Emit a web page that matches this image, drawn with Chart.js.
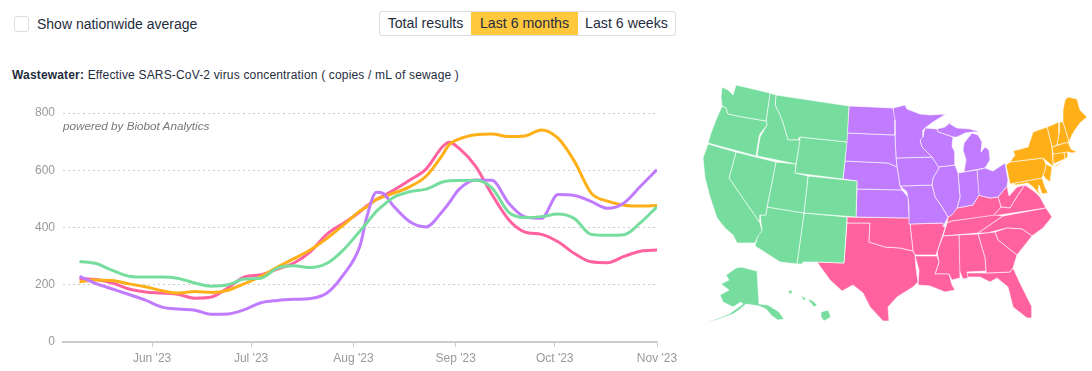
<!DOCTYPE html>
<html>
<head>
<meta charset="utf-8">
<script src="https://cdn.jsdelivr.net/npm/chart.js@4"></script>
<style>
  html, body { margin: 0; padding: 0; background: #fff; width: 1092px; height: 371px; overflow: hidden; font-family: "Liberation Sans", sans-serif; color: #1f2d3d; }
  .abs { position: absolute; white-space: nowrap; }
  #check { left: 14px; top: 16px; width: 13px; height: 14px; border: 1px solid #ddd; border-radius: 3px; }
  #checkLabel { left: 37px; top: 16px; font-size: 14px; }
  #buttons { left: 379px; top: 11px; height: 23px; border: 1px solid #ddd; border-radius: 3px; display: flex; font-size: 14.2px; line-height: 23px; }
  #buttons div { text-align: center; }
  #buttons .on { background: #ffc83d; }
  #title { left: 12px; top: 68px; font-size: 12px; letter-spacing: 0.17px; }
  #powered { left: 63px; top: 119px; font-size: 11.7px; font-style: italic; color: #777; }
  #lineChart { position: absolute; left: 0; top: 100px; }
  #mapChart { position: absolute; left: 690px; top: 80px; }
</style>
</head>
<body>
<div id="check" class="abs"></div>
<div id="checkLabel" class="abs">Show nationwide average</div>
<div id="buttons" class="abs">
  <div style="width:91px">Total results</div>
  <div class="on" style="width:107px">Last 6 months</div>
  <div style="width:97px">Last 6 weeks</div>
</div>
<div id="title" class="abs"><b>Wastewater:</b> Effective SARS-CoV-2 virus concentration ( copies / mL of sewage )</div>
<canvas id="lineChart" width="690" height="271"></canvas>
<canvas id="mapChart" width="402" height="260"></canvas>
<div id="powered" class="abs">powered by Biobot Analytics</div>

<script>
// Dias contados a partir de 1 jun 2023
const days = [-22,-17,-12,-7,-2,3,8,13,18,23,28,33,38,43,48,53,58,63,65,68,70,73,78,83,88,90,93,98,103,108,113,118,123,128,133,138,143,148,153];
const west = [281,274,250,230,227,227,222,206,195,200,220,223,258,266,260,275,322,388,415,457,477,504,525,534,559,563,564,565,538,454,435,438,447,431,376,373,375,417,472];
const midwest = [229,204,185,166,146,122,115,111,97,98,113,137,145,149,152,171,235,336,434,523,519,477,421,402,457,486,533,566,565,486,437,432,515,512,491,467,486,544,602];
const northeast = [210,217,215,203,193,179,171,176,173,181,204,229,262,291,322,362,409,458,472,498,507,519,542,579,654,689,709,724,727,718,720,741,712,631,521,492,478,475,477];
const south = [222,218,206,185,175,171,166,153,157,189,227,235,255,276,316,377,415,455,475,498,510,529,565,604,682,698,677,614,515,428,384,376,350,309,280,277,299,317,321];

const monthTicks = [0,30,61,92,122,153];
const monthLabels = ["Jun '23","Jul '23","Aug '23","Sep '23","Oct '23","Nov '23"];
const valueTicks = [0,200,400,600,800];

const colorWest = '#77dd9f';
const colorMidwest = '#c17bff';
const colorNortheast = '#ffb018';
const colorSouth = '#ff629f';

// Contornos do mapa (unidades do mapa)
const WA = [[722,87],[728,90],[733,95],[736,85],[770,93],[766,121],[743,117],[728,114],[726,108],[722,106],[721,97]];
const OR = [[722,106],[726,108],[728,114],[743,117],[766,121],[767,125],[760,134],[759,137],[756,156],[708,143],[711,133],[716,120]];
const CA = [[708,144],[736,152],[729,178],[760,223],[762,231],[758,236],[755,243],[737,243],[733,235],[725,228],[717,218],[712,203],[710,197],[705,178],[703,158]];
const NV = [[736,152],[776,162],[767,207],[766,215],[760,215],[760,223],[729,178]];
const ID = [[770,93],[776,95],[775,105],[780,115],[783,123],[785,130],[788,140],[800,140],[796,164],[757,156],[760,137],[767,125],[766,121]];
const MT = [[776,95],[849,106],[847,142],[800,137],[799,140],[788,140],[785,130],[783,123],[780,115],[775,105]];
const WY = [[800,137],[847,142],[843,179],[795,173]];
const UT = [[776,162],[796,164],[795,173],[808,176],[804,213],[767,207]];
const CO = [[808,176],[857,181],[856,217],[804,213]];
const AZ = [[767,207],[804,213],[797,264],[780,262],[755,246],[758,235],[762,230],[760,215],[766,215]];
const NM = [[804,213],[847,217],[844,263],[817,262],[803,262],[803,264],[797,264]];
const AK = [[736,268],[741,267],[757,271],[759,304],[768,305],[779,312],[784,319],[778,320],[772,316],[766,309],[759,306],[746,304],[739,310],[733,314],[716,320],[703,324],[716,319],[729,314],[743,304],[741,302],[733,307],[723,302],[720,295],[729,290],[721,284],[729,280],[726,275]];
const HI1 = [[821,312],[828,310],[831,317],[824,321],[821,317]];
const HI2 = [[809,299],[813,301],[817,305],[814,307],[810,302]];
const HI3 = [[801,296],[806,298],[804,301]];
const HI4 = [[788,290],[793,291],[790,295]];

const ND = [[849,106],[893,108],[895,120],[895,135],[847,133]];
const SD = [[847,133],[895,135],[896,158],[897,167],[888,163],[845,161]];
const NE = [[845,161],[888,163],[897,167],[900,186],[902,190],[857,189],[857,181],[843,179]];
const KS = [[857,189],[902,190],[908,197],[909,218],[856,217]];
const MN = [[893,108],[905,105],[907,109],[920,114],[930,115],[946,114],[933,122],[925,128],[923,130],[923,137],[920,140],[922,147],[932,157],[896,158],[895,135]];
const IA = [[896,158],[932,157],[939,168],[933,178],[932,185],[900,186],[897,167]];
const MO = [[900,186],[932,185],[935,197],[942,207],[948,217],[945,223],[943,227],[943,223],[910,224],[909,207],[907,192]];
const WI = [[925,128],[937,129],[938,132],[953,137],[952,146],[955,153],[955,165],[938,167],[932,157],[922,147],[920,140],[923,135]];
const IL = [[938,167],[955,165],[958,173],[960,197],[957,208],[952,215],[948,217],[942,207],[935,197],[932,185],[933,178],[939,168]];
const IN = [[958,173],[964,172],[977,170],[979,195],[973,205],[957,208],[960,197]];
const OH = [[977,170],[985,168],[993,171],[1005,163],[1008,180],[1007,186],[998,197],[990,198],[978,195]];
const MI = [[964,172],[985,168],[990,160],[989,150],[985,147],[981,152],[982,142],[978,135],[972,133],[964,143],[963,150],[966,160]];
const UP = [[937,129],[945,127],[952,121],[950,124],[957,128],[970,129],[980,132],[972,132],[965,133],[957,137],[953,137],[938,132]];

const OK = [[847,217],[910,218],[910,224],[913,251],[900,248],[885,247],[869,242],[870,223],[847,223]];
const TX = [[847,223],[870,223],[869,242],[885,247],[900,248],[913,251],[915,255],[916,268],[918,282],[913,287],[897,297],[888,307],[889,321],[883,321],[870,307],[863,293],[853,285],[842,291],[830,280],[817,262],[844,263]];
const AR = [[910,224],[943,223],[945,228],[937,252],[937,255],[915,255],[913,251]];
const LA = [[915,256],[937,256],[939,262],[935,274],[949,274],[952,285],[955,290],[945,292],[930,286],[918,285],[919,270]];
const MS = [[943,236],[959,235],[960,278],[952,280],[949,274],[935,274],[939,262],[937,252]];
const AL = [[959,235],[978,234],[985,258],[986,271],[967,272],[968,278],[963,279],[959,270]];
const GA = [[978,234],[995,232],[998,240],[1017,255],[1013,268],[1010,272],[986,273],[985,258]];
const FL = [[965,273],[986,273],[1010,272],[1013,268],[1020,283],[1032,307],[1032,318],[1027,318],[1013,307],[1008,287],[997,278],[990,282],[980,277],[967,277]];
const SC = [[995,232],[1007,228],[1022,229],[1032,236],[1017,255],[998,240]];
const NC = [[1003,216],[1046,208],[1052,217],[1043,228],[1032,236],[1022,229],[1007,228],[995,231],[987,233],[978,233],[987,227]];
const TN = [[947,223],[952,221],[995,215],[1003,216],[987,227],[978,233],[943,236]];
const KY = [[948,217],[957,208],[973,205],[979,195],[990,198],[998,197],[1001,207],[993,216],[952,221],[947,223]];
const VA = [[993,216],[1001,207],[1010,208],[1018,195],[1025,185],[1035,192],[1040,197],[1046,208]];
const WV = [[998,197],[1007,186],[1009,196],[1017,187],[1025,185],[1018,195],[1010,208],[1001,207]];

const NY = [[1010,162],[1015,155],[1013,151],[1028,147],[1033,132],[1047,127],[1052,147],[1053,164],[1054,167],[1050,164],[1043,158]];
const LI = [[1053,167],[1065,160],[1057,166]];
const PA = [[1006,165],[1010,162],[1043,158],[1046,164],[1045,170],[1042,178],[1010,184]];
const NJ = [[1046,164],[1052,167],[1051,175],[1050,182],[1046,179],[1043,175],[1045,170]];
const MD = [[1010,184],[1042,178],[1045,187],[1048,193],[1042,194],[1039,185],[1038,190],[1042,197],[1033,187],[1028,183],[1017,185]];
const VT = [[1047,127],[1059,122],[1059,133],[1057,145],[1052,147]];
const NH = [[1059,122],[1063,122],[1069,142],[1057,145],[1059,133]];
const ME = [[1065,100],[1068,97],[1077,99],[1080,110],[1087,117],[1080,123],[1075,130],[1072,135],[1069,142],[1063,122],[1063,110]];
const MA = [[1052,147],[1068,142],[1071,149],[1077,152],[1072,153],[1068,152],[1053,154]];
const CT = [[1053,154],[1064,152],[1065,159],[1053,164]];
const RI = [[1064,152],[1068,152],[1068,157],[1065,159]];

const regionWest = [WA,OR,CA,NV,ID,MT,WY,UT,CO,AZ,NM,AK,HI1,HI2,HI3,HI4];
const regionMidwest = [ND,SD,NE,KS,MN,IA,MO,WI,IL,IN,OH,MI,UP];
const regionSouth = [OK,TX,AR,LA,MS,AL,GA,FL,SC,NC,TN,KY,VA,WV];
const regionNortheast = [NY,LI,PA,NJ,MD,VT,NH,ME,MA,CT,RI];

function serie(values, color) {
    return {
        data: values,
        borderColor: color,
        borderWidth: 3,
        pointRadius: 0,
        cubicInterpolationMode: 'monotone',
        fill: false
    };
}

new Chart(document.getElementById('lineChart').getContext('2d'), {
    type: 'line',
    data: {
        labels: days,
        datasets: [
            serie(west, colorWest),
            serie(midwest, colorMidwest),
            serie(northeast, colorNortheast),
            serie(south, colorSouth)
        ]
    },
    options: {
        responsive: false,
        animation: false,
        layout: { padding: { top: 13, right: 33, left: 0, bottom: 0 } },
        plugins: { legend: { display: false }, tooltip: { enabled: false } },
        scales: {
            x: {
                type: 'linear',
                min: -27,
                max: 153,
                afterBuildTicks: scale => { scale.ticks = monthTicks.map(v => ({ value: v })); },
                afterFit: scale => { scale.height = 29; scale.paddingRight = 0; scale.paddingLeft = 0; },
                grid: { drawOnChartArea: false, color: '#ccc', tickLength: 5 },
                border: { color: '#ccc', width: 2 },
                ticks: {
                    autoSkip: false,
                    maxRotation: 0,
                    color: '#999',
                    font: { family: 'Liberation Sans', size: 12 },
                    padding: 4,
                    callback: (v, i) => monthLabels[i]
                }
            },
            y: {
                min: 0,
                max: 800,
                afterBuildTicks: scale => { scale.ticks = valueTicks.map(v => ({ value: v })); },
                afterFit: scale => { scale.width = 63; scale.paddingTop = 0; scale.paddingBottom = 0; },
                grid: { color: '#ccc', drawTicks: false },
                border: { display: false, dash: [2, 3] },
                ticks: {
                    color: '#999',
                    font: { family: 'Liberation Sans', size: 12 },
                    padding: 8
                }
            }
        }
    }
});

function regionDatasets(states, color) {
    return states.map(pts => ({
        data: pts.concat([pts[0]]).map(p => ({ x: p[0], y: p[1] })),
        showLine: true,
        tension: 0,
        pointRadius: 0,
        borderColor: 'rgba(255,255,255,0.75)',
        borderWidth: 0.8,
        backgroundColor: color,
        fill: 'shape',
        clip: false
    }));
}

new Chart(document.getElementById('mapChart').getContext('2d'), {
    type: 'scatter',
    data: {
        datasets: [
            ...regionDatasets(regionWest, colorWest),
            ...regionDatasets(regionMidwest, colorMidwest),
            ...regionDatasets(regionSouth, colorSouth),
            ...regionDatasets(regionNortheast, colorNortheast)
        ]
    },
    options: {
        responsive: false,
        animation: false,
        plugins: { legend: { display: false }, tooltip: { enabled: false } },
        scales: {
            x: { type: 'linear', display: false, min: 690, max: 1092 },
            y: { type: 'linear', display: false, min: 80, max: 340, reverse: true }
        }
    }
});
</script>
</body>
</html>
